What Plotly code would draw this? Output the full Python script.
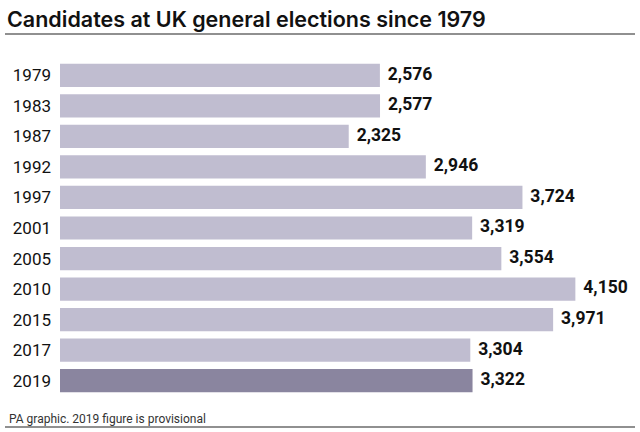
import plotly.graph_objects as go

years = ["1979", "1983", "1987", "1992", "1997", "2001", "2005", "2010", "2015", "2017", "2019"]
candidates = [2576, 2577, 2325, 2946, 3724, 3319, 3554, 4150, 3971, 3304, 3322]
labels = ["2,576", "2,577", "2,325", "2,946", "3,724", "3,319", "3,554", "4,150", "3,971", "3,304", "3,322"]
title = "Candidates at UK general elections since 1979"
footer = "PA graphic. 2019 figure is provisional"

light = "#c0bdd0"
dark = "#8a859f"
colors = [dark if y == "2019" else light for y in years]

PLOT_W = 570
PLOT_H = 336
TOP = 60
LEFT = 60


def px_y(py):
    return 1 - (py - TOP) / PLOT_H


def px_x(px):
    return (px - LEFT) / PLOT_W


fig = go.Figure()
fig.add_trace(go.Bar(
    x=candidates, y=years, orientation="h",
    marker=dict(color=colors, line=dict(width=0)),
    width=0.76,
    hoverinfo="skip",
))
fig.add_trace(go.Scatter(
    x=candidates, y=years, mode="text", text=labels,
    texttemplate="\u00a0\u2009%{text}",
    textposition="middle right", cliponaxis=False,
    textfont=dict(family="Roboto", size=17.5, color="#111111", weight="bold"),
    hoverinfo="skip",
))

fig.update_layout(
    width=640, height=432,
    margin=dict(l=LEFT, r=10, t=TOP, b=432 - TOP - PLOT_H, autoexpand=False),
    paper_bgcolor="white", plot_bgcolor="white",
    showlegend=False,
    xaxis=dict(range=[0, 4590], visible=False),
    yaxis=dict(type="category", categoryorder="array", categoryarray=years,
               range=[10.5, -0.5], showgrid=False, zeroline=False,
               showline=False, ticks="", ticklabelstandoff=8,
               tickfont=dict(family="Roboto", size=17, color="#111111")),
    shapes=[
        dict(type="line", xref="paper", yref="paper", x0=px_x(5), x1=px_x(635),
             y0=px_y(34), y1=px_y(34), line=dict(color="#222222", width=1.2)),
        dict(type="line", xref="paper", yref="paper", x0=px_x(5), x1=px_x(635),
             y0=px_y(427), y1=px_y(427), line=dict(color="#222222", width=1.2)),
    ],
    annotations=[
        dict(text=title, xref="paper", yref="paper", x=px_x(5), y=px_y(4),
             xanchor="left", yanchor="top", showarrow=False,
             font=dict(family="Inter", size=21.5, color="#111111", weight=600)),
        dict(text=footer, xref="paper", yref="paper", x=px_x(7), y=px_y(410),
             xanchor="left", yanchor="top", showarrow=False,
             font=dict(family="Roboto", size=12, color="#333333")),
    ],
)

fig.write_html("out.html", config={"displayModeBar": False},
               post_script="document.body.style.margin='0';")
